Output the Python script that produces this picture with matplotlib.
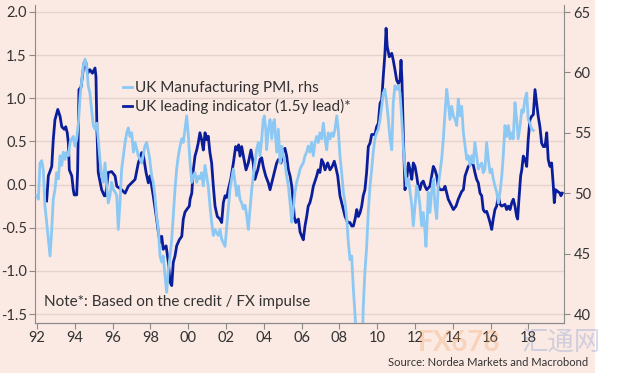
# import library
import matplotlib
matplotlib.use('Agg')
import matplotlib.pyplot as plt
from matplotlib.patches import Rectangle

# UK leading indicator (1.5y lead), lhs
lead_years = [1992.51, 1992.60, 1992.78, 1992.86, 1992.95, 1993.10, 1993.22, 1993.31, 1993.44, 1993.52,
              1993.60, 1993.66, 1993.71, 1993.84, 1993.92, 1993.97, 1994.10, 1994.15, 1994.22, 1994.33,
              1994.42, 1994.50, 1994.58, 1994.68, 1994.80, 1994.93, 1995.07, 1995.12, 1995.17, 1995.24,
              1995.42, 1995.56, 1995.63, 1995.77, 1995.95, 1996.13, 1996.22, 1996.48, 1996.66, 1996.83,
              1997.01, 1997.19, 1997.36, 1997.54, 1997.62, 1997.77, 1997.89, 1997.98, 1998.15, 1998.33,
              1998.42, 1998.51, 1998.60, 1998.68, 1998.83, 1998.95, 1999.04, 1999.13, 1999.21, 1999.30,
              1999.39, 1999.53, 1999.66, 1999.74, 1999.83, 1999.92, 2000.06, 2000.10, 2000.19, 2000.27,
              2000.36, 2000.45, 2000.53, 2000.62, 2000.71, 2000.80, 2000.89, 2000.98, 2001.06, 2001.15,
              2001.24, 2001.33, 2001.42, 2001.54, 2001.68, 2001.77, 2001.86, 2001.95, 2002.04, 2002.12,
              2002.25, 2002.39, 2002.51, 2002.60, 2002.67, 2002.74, 2002.83, 2002.92, 2003.06, 2003.18,
              2003.32, 2003.44, 2003.53, 2003.68, 2003.80, 2003.89, 2003.97, 2004.10, 2004.24, 2004.33,
              2004.42, 2004.56, 2004.68, 2004.77, 2004.91, 2005.03, 2005.12, 2005.21, 2005.30, 2005.39,
              2005.48, 2005.56, 2005.61, 2005.69, 2005.83, 2005.92, 2006.01, 2006.09, 2006.18, 2006.27,
              2006.35, 2006.44, 2006.53, 2006.62, 2006.80, 2006.88, 2006.97, 2007.06, 2007.15, 2007.24,
              2007.38, 2007.50, 2007.62, 2007.73, 2007.80, 2007.91, 2008.03, 2008.12, 2008.21, 2008.30,
              2008.44, 2008.56, 2008.65, 2008.74, 2008.83, 2008.92, 2009.00, 2009.09, 2009.18, 2009.26,
              2009.35, 2009.44, 2009.53, 2009.62, 2009.71, 2009.88, 2009.97, 2010.06, 2010.15, 2010.24,
              2010.32, 2010.41, 2010.47, 2010.53, 2010.64, 2010.77, 2010.85, 2010.94, 2011.03, 2011.12,
              2011.21, 2011.26, 2011.31, 2011.38, 2011.47, 2011.56, 2011.65, 2011.74, 2011.83, 2011.91,
              2012.00, 2012.09, 2012.17, 2012.26, 2012.35, 2012.44, 2012.53, 2012.62, 2012.79, 2012.97,
              2013.06, 2013.15, 2013.23, 2013.32, 2013.50, 2013.59, 2013.68, 2013.76, 2013.85, 2013.94,
              2014.03, 2014.17, 2014.29, 2014.47, 2014.56, 2014.65, 2014.82, 2015.00, 2015.08, 2015.17,
              2015.26, 2015.35, 2015.44, 2015.53, 2015.61, 2015.70, 2015.79, 2015.88, 2015.97, 2016.06,
              2016.14, 2016.23, 2016.32, 2016.41, 2016.50, 2016.59, 2016.76, 2016.85, 2016.94, 2017.03,
              2017.12, 2017.20, 2017.29, 2017.38, 2017.43, 2017.50, 2017.59, 2017.65, 2017.73, 2017.82,
              2017.91, 2017.99, 2018.08, 2018.17, 2018.26, 2018.35, 2018.44, 2018.52, 2018.61, 2018.70,
              2018.79, 2018.88, 2018.97, 2019.05, 2019.14, 2019.23, 2019.32, 2019.37, 2019.44, 2019.55,
              2019.67, 2019.72, 2019.79]
lead_values = [-0.19, 0.10, 0.21, 0.52, 0.75, 0.87, 0.79, 0.67, 0.64, 0.67,
               0.60, 0.48, 0.17, 0.10, -0.06, -0.12, -0.12, 0.17, 1.10, 1.13,
               1.29, 1.42, 1.42, 1.29, 1.33, 1.29, 1.35, 1.25, 0.64, 0.14,
               -0.06, -0.13, -0.13, 0.14, 0.15, 0.10, -0.02, -0.06, -0.10, -0.02,
               0.02, 0.06, 0.25, 0.37, 0.35, 0.14, 0.02, 0.10, -0.13, -0.40,
               -0.55, -0.67, -0.60, -0.75, -0.71, -0.90, -1.13, -1.17, -0.90, -0.83,
               -0.71, -0.64, -0.60, -0.40, -0.32, -0.29, -0.25, -0.17, -0.10, 0.17,
               0.33, 0.40, 0.48, 0.60, 0.52, 0.40, 0.60, 0.52, 0.56, 0.37,
               0.25, -0.02, -0.25, -0.37, -0.40, -0.44, -0.21, -0.13, -0.15, -0.06,
               0.06, 0.25, 0.44, 0.40, 0.46, 0.33, 0.44, 0.33, 0.17, 0.25,
               0.40, 0.25, 0.06, 0.17, 0.29, 0.31, 0.21, 0.10, 0.02, -0.06,
               0.02, 0.14, 0.25, 0.29, 0.25, 0.40, 0.42, 0.33, 0.17, 0.10,
               -0.02, -0.21, -0.37, -0.44, -0.40, -0.55, -0.60, -0.64, -0.48, -0.37,
               -0.25, -0.21, -0.13, -0.02, 0.10, 0.17, 0.14, 0.29, 0.25, 0.17,
               0.25, 0.17, 0.21, 0.27, 0.21, 0.10, -0.13, -0.21, -0.29, -0.37,
               -0.44, -0.44, -0.48, -0.48, -0.40, -0.29, -0.37, -0.33, -0.25, -0.13,
               -0.06, 0.14, 0.44, 0.48, 0.58, 0.58, 0.67, 0.71, 0.94, 0.98,
               1.25, 1.52, 1.81, 1.60, 1.48, 1.52, 1.44, 1.33, 1.21, 1.17,
               1.21, 1.44, 1.21, 0.60, -0.06, 0.06, 0.25, 0.17, 0.06, 0.25,
               0.21, 0.10, -0.02, -0.06, 0.02, 0.04, -0.02, -0.06, -0.02, 0.21,
               0.17, 0.10, -0.02, -0.06, -0.06, -0.02, -0.10, -0.17, -0.21, -0.25,
               -0.29, -0.25, -0.17, -0.08, -0.06, 0.10, 0.21, 0.25, 0.23, 0.14,
               0.06, 0.02, -0.10, -0.13, -0.29, -0.32, -0.31, -0.37, -0.44, -0.52,
               -0.40, -0.29, -0.25, -0.13, -0.23, -0.25, -0.23, -0.29, -0.25, -0.29,
               -0.21, -0.17, -0.25, -0.37, -0.40, -0.17, 0.10, 0.17, 0.33, 0.29,
               0.21, 0.52, 0.75, 0.79, 0.81, 1.10, 0.94, 0.79, 0.67, 0.48,
               0.44, 0.44, 0.60, 0.29, 0.21, 0.25, -0.02, -0.21, -0.06, -0.08,
               -0.10, -0.13, -0.10]

# UK Manufacturing PMI, rhs
pmi_years = [1992.00, 1992.07, 1992.16, 1992.25, 1992.33, 1992.42, 1992.51, 1992.60, 1992.69, 1992.78,
             1992.86, 1992.95, 1993.04, 1993.13, 1993.22, 1993.31, 1993.39, 1993.48, 1993.57, 1993.66,
             1993.75, 1993.84, 1993.92, 1994.01, 1994.10, 1994.19, 1994.28, 1994.37, 1994.45, 1994.54,
             1994.63, 1994.71, 1994.80, 1994.89, 1994.98, 1995.07, 1995.16, 1995.24, 1995.33, 1995.42,
             1995.51, 1995.60, 1995.69, 1995.77, 1995.86, 1995.95, 1996.04, 1996.13, 1996.22, 1996.30,
             1996.39, 1996.48, 1996.57, 1996.66, 1996.75, 1996.83, 1996.92, 1997.01, 1997.10, 1997.19,
             1997.28, 1997.36, 1997.54, 1997.71, 1997.80, 1997.94, 1998.07, 1998.15, 1998.24, 1998.33,
             1998.42, 1998.51, 1998.60, 1998.68, 1998.77, 1998.86, 1998.95, 1999.04, 1999.13, 1999.21,
             1999.30, 1999.39, 1999.48, 1999.57, 1999.66, 1999.74, 1999.83, 1999.92, 2000.01, 2000.10,
             2000.19, 2000.27, 2000.36, 2000.45, 2000.53, 2000.62, 2000.71, 2000.80, 2000.89, 2000.98,
             2001.06, 2001.15, 2001.24, 2001.33, 2001.42, 2001.51, 2001.59, 2001.68, 2001.77, 2001.86,
             2001.95, 2002.04, 2002.12, 2002.21, 2002.30, 2002.39, 2002.48, 2002.57, 2002.65, 2002.74,
             2002.83, 2002.92, 2003.01, 2003.10, 2003.18, 2003.27, 2003.36, 2003.44, 2003.53, 2003.62,
             2003.71, 2003.80, 2003.89, 2003.97, 2004.03, 2004.10, 2004.15, 2004.24, 2004.33, 2004.42,
             2004.50, 2004.56, 2004.63, 2004.68, 2004.77, 2004.86, 2004.95, 2005.03, 2005.12, 2005.21,
             2005.30, 2005.39, 2005.48, 2005.56, 2005.65, 2005.74, 2005.83, 2005.92, 2006.01, 2006.09,
             2006.18, 2006.27, 2006.35, 2006.44, 2006.53, 2006.62, 2006.71, 2006.80, 2006.88, 2006.97,
             2007.06, 2007.15, 2007.24, 2007.33, 2007.41, 2007.50, 2007.59, 2007.68, 2007.77, 2007.86,
             2007.94, 2008.03, 2008.12, 2008.21, 2008.30, 2008.38, 2008.47, 2008.56, 2008.65, 2008.74,
             2008.83, 2008.94, 2009.10, 2009.20, 2009.26, 2009.35, 2009.44, 2009.53, 2009.62, 2009.71,
             2009.79, 2009.88, 2009.97, 2010.06, 2010.15, 2010.24, 2010.32, 2010.41, 2010.50, 2010.59,
             2010.68, 2010.77, 2010.85, 2010.94, 2011.03, 2011.12, 2011.21, 2011.30, 2011.38, 2011.47,
             2011.56, 2011.65, 2011.74, 2011.83, 2011.91, 2012.00, 2012.09, 2012.17, 2012.26, 2012.35,
             2012.44, 2012.53, 2012.58, 2012.65, 2012.70, 2012.79, 2012.88, 2012.97, 2013.06, 2013.15,
             2013.23, 2013.32, 2013.41, 2013.50, 2013.59, 2013.68, 2013.76, 2013.85, 2013.94, 2014.03,
             2014.12, 2014.21, 2014.29, 2014.38, 2014.47, 2014.56, 2014.65, 2014.74, 2014.82, 2014.91,
             2015.00, 2015.08, 2015.17, 2015.26, 2015.35, 2015.44, 2015.53, 2015.61, 2015.70, 2015.79,
             2015.88, 2015.97, 2016.06, 2016.14, 2016.23, 2016.32, 2016.41, 2016.50, 2016.59, 2016.67,
             2016.76, 2016.85, 2016.94, 2017.03, 2017.12, 2017.20, 2017.29, 2017.38, 2017.46, 2017.56,
             2017.65, 2017.73, 2017.82, 2017.91, 2017.99, 2018.08, 2018.17, 2018.26]
pmi_values = [49.8, 49.5, 52.5, 52.7, 52.0, 49.0, 47.6, 46.2, 44.8, 47.0,
              49.5, 50.3, 51.7, 51.2, 53.1, 52.3, 53.4, 52.8, 53.4, 53.1,
              54.2, 54.5, 54.7, 53.9, 54.5, 55.8, 58.0, 59.4, 60.5, 61.1,
              60.5, 58.9, 58.3, 56.9, 55.6, 55.3, 55.8, 54.5, 52.8, 51.4,
              50.9, 52.5, 50.6, 49.2, 49.8, 50.9, 50.3, 50.1, 49.8, 47.0,
              49.2, 52.0, 53.1, 54.2, 55.0, 55.4, 54.7, 55.0, 53.4, 54.2,
              53.6, 53.1, 52.5, 53.9, 54.2, 53.1, 51.4, 50.9, 49.8, 48.1,
              47.0, 44.8, 44.3, 44.8, 43.2, 41.8, 43.7, 44.8, 46.2, 48.1,
              50.3, 52.0, 53.1, 53.9, 54.5, 54.2, 55.3, 56.4, 54.7, 52.5,
              50.9, 51.4, 51.7, 50.9, 51.4, 51.2, 51.7, 50.6, 52.3, 51.4,
              50.6, 49.0, 47.6, 46.5, 47.0, 46.7, 46.5, 47.0, 46.2, 45.9,
              45.6, 47.3, 48.7, 50.3, 51.2, 52.0, 50.9, 49.8, 50.6, 49.5,
              49.2, 48.7, 49.0, 48.1, 47.0, 48.7, 50.3, 51.4, 52.5, 53.6,
              54.2, 53.1, 54.5, 56.1, 56.4, 55.3, 53.6, 55.3, 56.1, 54.5,
              55.8, 56.1, 54.5, 53.4, 55.3, 52.5, 53.9, 53.1, 52.5, 51.4,
              50.6, 49.2, 47.6, 48.7, 50.1, 50.9, 51.4, 52.0, 52.3, 52.5,
              53.1, 53.4, 53.9, 53.4, 54.2, 53.1, 54.2, 54.7, 54.2, 55.0,
              54.5, 55.8, 54.5, 53.6, 55.0, 54.5, 55.0, 54.7, 55.3, 56.4,
              55.3, 53.1, 51.7, 50.1, 49.2, 48.1, 46.0, 44.5, 44.8, 42.0,
              39.9, 36.5, 35.0, 36.5, 40.5, 43.5, 45.5, 48.5, 50.6, 52.0,
              53.4, 54.5, 55.0, 55.3, 56.1, 57.2, 58.3, 58.6, 57.5, 56.1,
              54.5, 53.6, 57.5, 58.9, 58.6, 58.9, 58.3, 56.1, 53.9, 52.0,
              50.6, 51.2, 50.1, 49.0, 47.3, 49.0, 50.6, 50.1, 49.0, 47.3,
              48.4, 46.8, 45.6, 47.9, 50.1, 48.4, 50.1, 51.2, 49.0, 47.9,
              50.6, 51.7, 52.8, 54.5, 56.7, 58.6, 57.5, 56.1, 57.2, 56.4,
              56.1, 55.6, 57.8, 56.4, 57.2, 55.0, 53.9, 52.8, 53.1, 52.3,
              53.1, 52.5, 54.2, 53.1, 52.0, 52.3, 52.5, 51.7, 52.0, 54.2,
              52.8, 51.7, 52.0, 51.2, 50.6, 50.1, 49.2, 50.1, 51.4, 53.1,
              55.6, 54.7, 55.6, 54.5, 55.0, 54.5, 57.5, 56.1, 54.5, 55.6,
              56.9, 56.7, 57.8, 58.3, 56.1, 55.8, 55.3, 55.2]

# axis ticks
x_ticks = [1992, 1994, 1996, 1998, 2000, 2002, 2004, 2006, 2008, 2010, 2012, 2014, 2016, 2018]
x_labels = ['92', '94', '96', '98', '00', '02', '04', '06', '08', '10', '12', '14', '16', '18']
left_ticks = [-1.5, -1.0, -0.5, 0.0, 0.5, 1.0, 1.5, 2.0]
right_ticks = [40, 45, 50, 55, 60, 65]

# colours
bg_colour = '#fbe9e3'
light_blue = '#8cc8f4'
dark_blue = '#0a1e9c'
text_colour = '#333333'
grid_colour = '#e6d3cd'
spine_colour = '#8a8a8a'

plt.rcParams['font.family'] = ['Lato', 'Noto Sans CJK SC', 'DejaVu Sans']

fig = plt.figure(figsize=(6.2, 3.82), dpi=100, facecolor='white')
# pink panel (leaves the right and bottom strips white)
fig.patches.append(Rectangle((0, 1 - 373 / 382), 595 / 620, 373 / 382,
                             transform=fig.transFigure, facecolor=bg_colour,
                             edgecolor='none', zorder=-10))

ax = fig.add_axes([35 / 620, 1 - 323 / 382, 529 / 620, 318 / 382])
ax.set_facecolor('none')
ax2 = ax.twinx()

# leading indicator on the left axis, PMI on the right one
line_lead, = ax.plot(lead_years, lead_values, color=dark_blue, lw=2.0, zorder=3)
line_pmi, = ax2.plot(pmi_years, pmi_values, color=light_blue, lw=2.0, zorder=3)

ax.set_xlim(1991.894, 2019.884)
ax.set_ylim(-1.604, 2.08)
ax2.set_ylim(39.255, 65.58)

ax.set_xticks(x_ticks)
ax.set_xticklabels(x_labels)
ax.set_yticks(left_ticks)
ax.set_yticklabels([f'{t:.1f}' for t in left_ticks])
ax2.set_yticks(right_ticks)

ax.grid(axis='y', color=grid_colour, lw=1.0, zorder=0)
ax.set_axisbelow(True)

for a in (ax, ax2):
    a.spines['top'].set_visible(False)
    a.spines['left'].set_color(spine_colour)
    a.spines['right'].set_color(spine_colour)
    a.spines['bottom'].set_color(spine_colour)
    a.tick_params(colors=spine_colour, labelcolor=text_colour, labelsize=10.5, length=4, width=0.8)
ax.spines['right'].set_visible(False)
ax2.spines['left'].set_visible(False)
ax.tick_params(axis='x', pad=2)
ax.tick_params(axis='y', pad=2)
ax2.tick_params(axis='y', pad=3)

# legend
leg = ax2.legend([line_pmi, line_lead],
                 ['UK Manufacturing PMI, rhs', 'UK leading indicator (1.5y lead)*'],
                 loc='upper left', bbox_to_anchor=(0.155, 0.78), frameon=False,
                 fontsize=11, handlelength=0.6, handletextpad=0.2, labelspacing=0.25,
                 borderaxespad=0)
for t in leg.get_texts():
    t.set_color(text_colour)

# note and source
ax.text(0.017, 0.045, 'Note*: Based on the credit / FX impulse', transform=ax.transAxes,
        fontsize=11, color=text_colour, ha='left', va='bottom', zorder=5)
fig.text(588 / 620, 1 - 362 / 382, 'Source: Nordea Markets and Macrobond',
         fontsize=8, color=text_colour, ha='right', va='center')

# faint watermark over the lower right tick labels
fig.text(418 / 620, 1 - 343 / 382, 'FX678', fontsize=20, color='#f5a25a', alpha=0.3,
         ha='left', va='center', fontweight='bold')
fig.text(522 / 620, 1 - 343 / 382, '汇通网', fontsize=19, color='#6d8fd0', alpha=0.3,
         ha='left', va='center')

plt.savefig('out.png', dpi=100, facecolor='white')
